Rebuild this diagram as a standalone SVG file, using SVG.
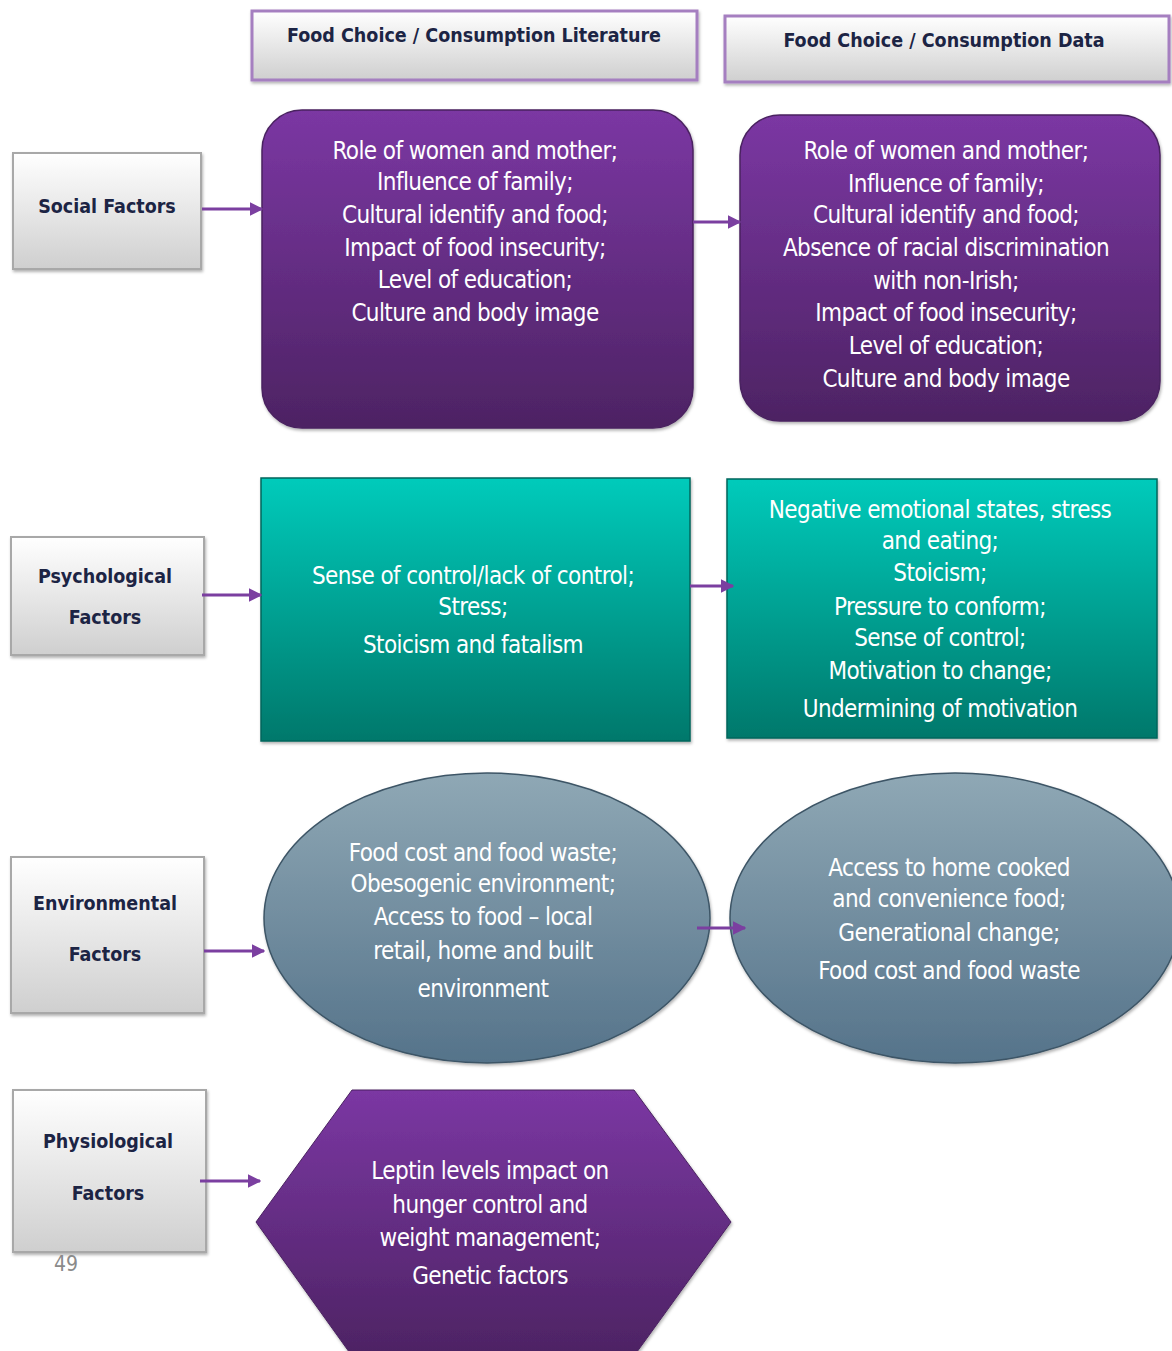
<svg xmlns="http://www.w3.org/2000/svg" width="1172" height="1351" viewBox="0 0 1172 1351">
<defs>
<linearGradient id="gGrey" x1="0" y1="0" x2="0" y2="1"><stop offset="0" stop-color="#ffffff"/><stop offset="1" stop-color="#cfcfcf"/></linearGradient>
<linearGradient id="gPurple" x1="0" y1="0" x2="0" y2="1"><stop offset="0" stop-color="#7b37a3"/><stop offset="1" stop-color="#4d2363"/></linearGradient>
<linearGradient id="gTeal" x1="0" y1="0" x2="0" y2="1"><stop offset="0" stop-color="#00cbbb"/><stop offset="1" stop-color="#00786b"/></linearGradient>
<linearGradient id="gSlate" x1="0" y1="0" x2="0" y2="1"><stop offset="0" stop-color="#8fa8b5"/><stop offset="1" stop-color="#55738a"/></linearGradient>
<filter id="sh" x="-5%" y="-5%" width="112%" height="115%"><feDropShadow dx="1" dy="2" stdDeviation="1.5" flood-color="#000" flood-opacity="0.3"/></filter>
<marker id="arr" viewBox="0 0 10 10" refX="9" refY="5" markerWidth="4.5" markerHeight="4.5" orient="auto" markerUnits="strokeWidth"><path d="M0,0 L10,5 L0,10 z" fill="#7b3fa0"/></marker>
</defs>
<style>
.hdr{fill:url(#gGrey);stroke:#a57fc0;stroke-width:3}
.fac{fill:url(#gGrey);stroke:#a8a8a8;stroke-width:2}
.ht{font-family:"DejaVu Sans Condensed","DejaVu Sans",sans-serif;font-stretch:condensed;font-weight:bold;font-size:19.5px;fill:#1c2444;text-anchor:middle}
.ft{font-family:"DejaVu Sans Condensed","DejaVu Sans",sans-serif;font-stretch:condensed;font-weight:bold;font-size:19.5px;fill:#1c2444;text-anchor:middle}
.wt{font-family:"DejaVu Sans Condensed","DejaVu Sans",sans-serif;font-stretch:condensed;font-size:24px;fill:#ffffff;text-anchor:middle;letter-spacing:-0.6px}
.con{stroke:#7b3fa0;stroke-width:3;fill:none;marker-end:url(#arr)}
.pg{font-family:"DejaVu Sans Condensed","DejaVu Sans",sans-serif;font-size:21px;fill:#8a8a8a;text-anchor:middle}
</style>
<rect width="1172" height="1351" fill="#ffffff"/>

<g id="hdr-lit"><rect class="hdr" x="252" y="11" width="445" height="69" filter="url(#sh)"/><text class="ht" x="474" y="42">Food Choice / Consumption Literature</text></g>
<g id="hdr-data"><rect class="hdr" x="725" y="16" width="444" height="66" filter="url(#sh)"/><text class="ht" x="944" y="47">Food Choice / Consumption Data</text></g>

<g id="social"><rect class="fac" x="13" y="153" width="188" height="116" filter="url(#sh)"/><text class="ft" x="107" y="213">Social Factors</text></g>
<g id="psych"><rect class="fac" x="11" y="537" width="193" height="118" filter="url(#sh)"/><text class="ft" x="105" y="583">Psychological</text><text class="ft" x="105" y="624">Factors</text></g>
<g id="env"><rect class="fac" x="11" y="857" width="193" height="156" filter="url(#sh)"/><text class="ft" x="105" y="910">Environmental</text><text class="ft" x="105" y="961">Factors</text></g>
<g id="phys"><rect class="fac" x="13" y="1090" width="193" height="162" filter="url(#sh)"/><text class="ft" x="108" y="1148">Physiological</text><text class="ft" x="108" y="1200">Factors</text></g>

<g id="social-lit"><rect x="262" y="110" width="431" height="318" rx="40" fill="url(#gPurple)" stroke="#4a2260" stroke-width="1.5" filter="url(#sh)"/>
<text class="wt" x="475" y="159">Role of women and mother;</text>
<text class="wt" x="475" y="190">Influence of family;</text>
<text class="wt" x="475" y="223">Cultural identify  and food;</text>
<text class="wt" x="475" y="256">Impact of food insecurity;</text>
<text class="wt" x="475" y="288">Level of education;</text>
<text class="wt" x="475" y="321">Culture and body image</text></g>

<g id="social-data"><rect x="740" y="115" width="420" height="306" rx="40" fill="url(#gPurple)" stroke="#4a2260" stroke-width="1.5" filter="url(#sh)"/>
<text class="wt" x="946" y="159">Role of women and mother;</text>
<text class="wt" x="946" y="192">Influence of family;</text>
<text class="wt" x="946" y="223">Cultural identify  and food;</text>
<text class="wt" x="946" y="256">Absence of racial discrimination</text>
<text class="wt" x="946" y="289">with non-Irish;</text>
<text class="wt" x="946" y="321">Impact of food insecurity;</text>
<text class="wt" x="946" y="354">Level of education;</text>
<text class="wt" x="946" y="387">Culture and body image</text></g>

<g id="psych-lit"><rect x="261" y="478" width="429" height="263" fill="url(#gTeal)" stroke="#00665c" stroke-width="1.5" filter="url(#sh)"/>
<text class="wt" x="473" y="584">Sense of control/lack of control;</text>
<text class="wt" x="473" y="615">Stress;</text>
<text class="wt" x="473" y="653">Stoicism and fatalism</text></g>

<g id="psych-data"><rect x="727" y="479" width="430" height="259" fill="url(#gTeal)" stroke="#00665c" stroke-width="1.5" filter="url(#sh)"/>
<text class="wt" x="940" y="518">Negative emotional states,  stress</text>
<text class="wt" x="940" y="549">and eating;</text>
<text class="wt" x="940" y="581">Stoicism;</text>
<text class="wt" x="940" y="615">Pressure to  conform;</text>
<text class="wt" x="940" y="646">Sense of control;</text>
<text class="wt" x="940" y="679">Motivation  to change;</text>
<text class="wt" x="940" y="717">Undermining  of motivation</text></g>

<g id="env-lit"><ellipse cx="487" cy="918" rx="223" ry="145" fill="url(#gSlate)" stroke="#3d5566" stroke-width="1.5" filter="url(#sh)"/>
<text class="wt" x="483" y="861">Food cost and food  waste;</text>
<text class="wt" x="483" y="892">Obesogenic environment;</text>
<text class="wt" x="483" y="925">Access to food  –  local</text>
<text class="wt" x="483" y="959">retail, home and  built</text>
<text class="wt" x="483" y="997">environment</text></g>

<g id="env-data"><ellipse cx="955" cy="918" rx="225" ry="145" fill="url(#gSlate)" stroke="#3d5566" stroke-width="1.5" filter="url(#sh)"/>
<text class="wt" x="949" y="876">Access to home cooked</text>
<text class="wt" x="949" y="907">and convenience food;</text>
<text class="wt" x="949" y="941">Generational change;</text>
<text class="wt" x="949" y="979">Food cost and food waste</text></g>

<g id="phys-lit"><polygon points="352,1090 634,1090 731,1222 634,1356 352,1356 256,1222" fill="url(#gPurple)" stroke="#4a2260" stroke-width="1" filter="url(#sh)"/>
<text class="wt" x="490" y="1179">Leptin levels impact on</text>
<text class="wt" x="490" y="1213">hunger control and</text>
<text class="wt" x="490" y="1246">weight management;</text>
<text class="wt" x="490" y="1284">Genetic factors</text></g>

<text class="pg" x="66" y="1271">49</text>

<g id="connectors">
<line class="con" x1="202" y1="209" x2="262" y2="209"/>
<line class="con" x1="693" y1="222" x2="740" y2="222"/>
<line class="con" x1="202" y1="595" x2="261" y2="595"/>
<line class="con" x1="690" y1="586" x2="733" y2="586"/>
<line class="con" x1="204" y1="951" x2="264" y2="951"/>
<line class="con" x1="697" y1="928" x2="745" y2="928"/>
<line class="con" x1="200" y1="1181" x2="260" y2="1181"/>
</g>
</svg>
